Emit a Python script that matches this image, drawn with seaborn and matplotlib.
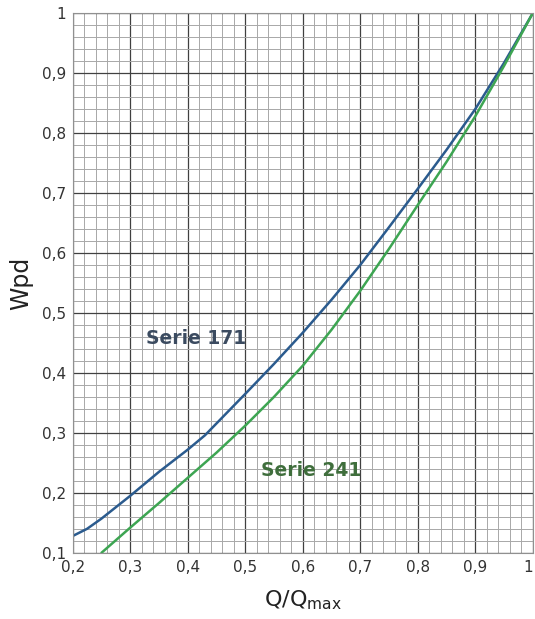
import numpy as np
import pandas as pd
from matplotlib import pyplot as plt
from matplotlib.ticker import MultipleLocator
import seaborn as sns

# values
q171 = [0.2, 0.225, 0.25, 0.3, 0.35, 0.4, 0.43, 0.5, 0.55, 0.6, 0.65, 0.7, 0.75, 0.8, 0.85, 0.9, 0.95, 1.0]
w171 = [0.128, 0.14, 0.157, 0.195, 0.235, 0.272, 0.296, 0.365, 0.415, 0.467, 0.522, 0.58, 0.643, 0.707, 0.772, 0.84, 0.917, 1.0]
q241 = [0.25, 0.3, 0.35, 0.4, 0.45, 0.5, 0.55, 0.6, 0.65, 0.7, 0.75, 0.8, 0.85, 0.9, 0.95, 1.0]
w241 = [0.1, 0.142, 0.183, 0.225, 0.267, 0.312, 0.36, 0.412, 0.472, 0.537, 0.607, 0.68, 0.752, 0.828, 0.912, 1.0]

xticks = [0.2, 0.3, 0.4, 0.5, 0.6, 0.7, 0.8, 0.9, 1.0]
xlabels = ['0,2', '0,3', '0,4', '0,5', '0,6', '0,7', '0,8', '0,9', '1']
yticks = [0.1, 0.2, 0.3, 0.4, 0.5, 0.6, 0.7, 0.8, 0.9, 1.0]
ylabels = ['0,1', '0,2', '0,3', '0,4', '0,5', '0,6', '0,7', '0,8', '0,9', '1']

df = pd.concat([
    pd.DataFrame({'Q': q171, 'Wpd': w171, 'serie': 'Serie 171'}),
    pd.DataFrame({'Q': q241, 'Wpd': w241, 'serie': 'Serie 241'}),
])

sns.set_style('white')
plt.rcParams['font.family'] = ['DejaVu Sans']

fig = plt.figure(figsize=(5.35, 6.19), dpi=100)
ax = fig.add_axes([0.136, 0.107, 0.86, 0.872])

sns.lineplot(data=df, x='Q', y='Wpd', hue='serie', palette=['#2b5b8e', '#3da552'],
             linewidth=1.8, legend=False, ax=ax, sort=True)

ax.set_xlim(0.2, 1.0)
ax.set_ylim(0.1, 1.0)
ax.set_xticks(xticks, xlabels)
ax.set_yticks(yticks, ylabels)
ax.xaxis.set_minor_locator(MultipleLocator(0.02))
ax.yaxis.set_minor_locator(MultipleLocator(0.02))
ax.get_xticklabels()[-1].set_horizontalalignment('right')
ax.grid(which='major', color='#404040', linewidth=0.9)
ax.grid(which='minor', color='#a8a8a8', linewidth=0.7)
ax.set_axisbelow(True)
ax.tick_params(which='both', length=0, labelsize=11, labelcolor='#333333', pad=5)
for s in ax.spines.values():
    s.set_color('#909090')
    s.set_linewidth(0.8)

ax.set_xlabel('Q/Q$_{\\mathregular{max}}$', fontsize=16, color='#222222', labelpad=10)
ax.set_ylabel('Wpd', fontsize=17, color='#222222', labelpad=6)

ax.text(0.415, 0.458, 'Serie 171', fontsize=13.5, fontweight='bold', color='#3b4b60',
        ha='center', va='center')
ax.text(0.615, 0.238, 'Serie 241', fontsize=13.5, fontweight='bold', color='#3f6e3c',
        ha='center', va='center')

fig.savefig('out.png', dpi=100)
